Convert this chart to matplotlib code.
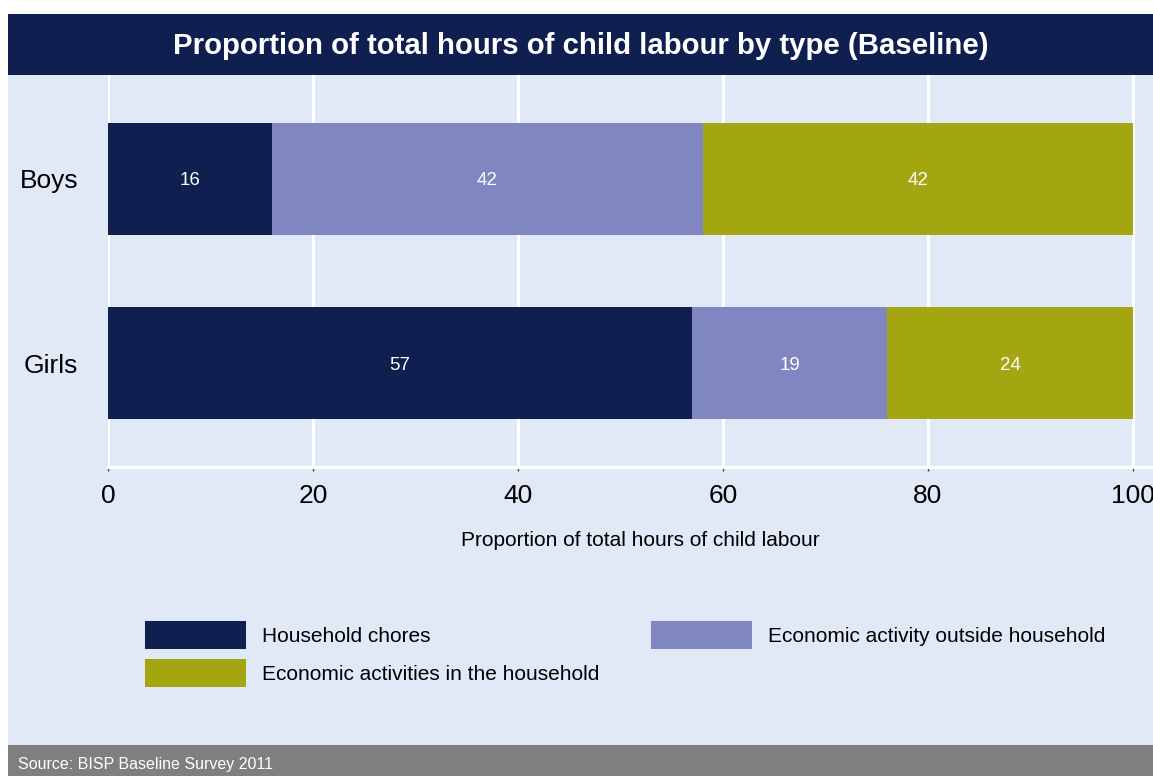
import matplotlib.pyplot as plt
from matplotlib.patches import Rectangle

plt.rcParams['font.family'] = ['Liberation Sans', 'DejaVu Sans']

# Share of total child labour hours (%)
groups = ['Boys', 'Girls']
series = ['Household chores', 'Economic activity outside household',
          'Economic activities in the household']
chores = [16, 57]
outside = [42, 19]
inside = [42, 24]
values = [chores, outside, inside]

navy = '#0E1F50'
lavender = '#7F86C2'
olive = '#A3A511'
colors = [navy, lavender, olive]
panel = '#E1E9F6'

W, H = 1153, 776
fig = plt.figure(figsize=(W / 100, H / 100), dpi=100)
fig.patch.set_facecolor('white')


def box(x0, y0, x1, y1, color):
    # rectangle given in pixel coords from the top-left corner
    fig.patches.append(Rectangle((x0 / W, 1 - y1 / H), (x1 - x0) / W, (y1 - y0) / H,
                                 transform=fig.transFigure, facecolor=color,
                                 edgecolor='none', zorder=0))


box(8, 75, W, 745, panel)
box(8, 14, W, 75, navy)
box(8, 745, W, H, '#7F7F7F')

fig.text((8 + W) / 2 / W, 1 - 46 / H,
         'Proportion of total hours of child labour by type (Baseline)',
         color='white', fontsize=21.2, fontweight='bold', ha='center', va='center')
fig.text(18 / W, 1 - 765 / H, 'Source: BISP Baseline Survey 2011',
         color='white', fontsize=11.5, ha='left', va='center')

# plot area
ax = fig.add_axes([108 / W, 1 - 467 / H, (W - 108) / W, (467 - 75) / H])
ax.set_zorder(2)
ax.patch.set_alpha(0)
ax.set_xlim(0, (W - 108) / 10.25)
ax.set_ylim(1.563, -0.563)

ypos = list(range(len(groups)))
left = [0] * len(groups)
for vals, col in zip(values, colors):
    bars = ax.barh(ypos, vals, left=left, height=0.605, color=col, zorder=3)
    for b, v in zip(bars, vals):
        ax.text(b.get_x() + b.get_width() / 2, b.get_y() + b.get_height() / 2 + 0.01,
                str(v), color='white', fontsize=13.5, ha='center', va='center',
                zorder=4)
    left = [l + v for l, v in zip(left, vals)]

ax.set_xticks([0, 20, 40, 60, 80, 100])
ax.set_yticks(ypos)
ax.set_yticklabels(groups, fontsize=19)
ax.tick_params(axis='y', length=0, pad=21.5)
ax.tick_params(axis='x', labelsize=19, length=3, width=1, color='#444444', pad=9)
ax.grid(axis='x', color='white', linewidth=2.2, zorder=1)
ax.set_axisbelow(True)
for s in ['top', 'right', 'left']:
    ax.spines[s].set_visible(False)
ax.spines['bottom'].set_color('white')
ax.spines['bottom'].set_linewidth(2.2)

fig.text(640 / W, 1 - 541 / H, 'Proportion of total hours of child labour',
         fontsize=15, ha='center', va='center')

# legend
legend_pos = [(145, 621), (651, 621), (145, 659)]
for name, col, (x, y) in zip(series, colors, legend_pos):
    box(x, y, x + 101, y + 28, col)
    fig.text((x + 117) / W, 1 - (y + 16) / H, name, fontsize=15,
             ha='left', va='center')

fig.savefig('out.png', dpi=100)
